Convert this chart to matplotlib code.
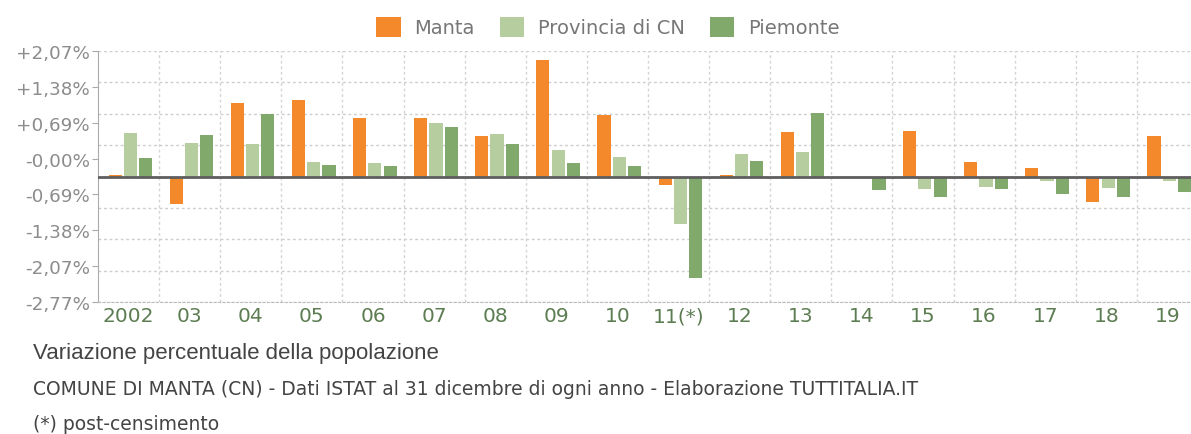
import numpy as np
import matplotlib
matplotlib.use("Agg")
import matplotlib.pyplot as plt
from matplotlib.patches import Patch

plt.rcParams['font.family'] = ['Liberation Sans', 'DejaVu Sans']

# dati: variazione percentuale annua della popolazione
years = ['2002', '03', '04', '05', '06', '07', '08', '09', '10', '11(*)',
         '12', '13', '14', '15', '16', '17', '18', '19']
manta = [0.03, -0.61, 1.63, 1.70, 1.30, 1.30, 0.89, 2.58, 1.35, -0.18,
         0.04, 0.99, 0.00, 1.00, 0.31, 0.19, -0.56, 0.89]
provincia = [0.95, 0.75, 0.71, 0.31, 0.30, 1.18, 0.93, 0.58, 0.44, -1.05,
             0.49, 0.54, -0.04, -0.28, -0.23, -0.10, -0.25, -0.10]
piemonte = [0.41, 0.91, 1.39, 0.25, 0.24, 1.10, 0.71, 0.29, 0.24, -2.25,
            0.35, 1.41, -0.29, -0.46, -0.28, -0.39, -0.45, -0.34]
series_names = ['Manta', 'Provincia di CN', 'Piemonte']
ytick_labels = ['-2,77%', '-2,07%', '-1,38%', '-0,69%', '-0,00%',
                '+0,69%', '+1,38%', '+2,07%']

colors = ['#f4892b', '#b6cd9f', '#81a96c']
ymax = 2.77
wide = 'DejaVu Sans'

fig = plt.figure(figsize=(11.91, 4.35), dpi=100)
ax = fig.add_axes([98 / 1191, 0.3034, 1100 / 1191, 0.5770])

x = np.arange(len(years))
width = 0.215
offsets = [-0.22, 0.03, 0.28]
for vals, off, col in zip([manta, provincia, piemonte], offsets, colors):
    ax.bar(x + off, vals, width, color=col, zorder=3)

ax.set_xlim(-0.5, len(years) - 0.5)
ax.set_ylim(-ymax, ymax)

# griglia tratteggiata
for gy in np.linspace(-ymax, ymax, 9):
    ax.axhline(gy, color='#cdcdcd', lw=1, ls=(0, (2, 2)), zorder=1)
for gx in np.arange(0.5, len(years) - 0.5, 1):
    ax.axvline(gx, color='#d4d4d4', lw=1, ls=(0, (2, 2)), zorder=1)
ax.axhline(0, color='#5e5e5e', lw=2, zorder=4)

# etichette asse y (distribuite come nell'originale)
ax.set_yticks(np.linspace(-ymax, ymax, 8))
ax.set_yticklabels(ytick_labels, fontsize=13.2, color='#8c8c8c', family=wide)
ax.tick_params(axis='y', length=4, color='#aaaaaa', pad=2)

ax.set_xticks(x)
ax.set_xticklabels(years, fontsize=14.5, color='#5c7d52', family=wide)
ax.tick_params(axis='x', length=0, pad=3)

for s in ['top', 'right']:
    ax.spines[s].set_visible(False)
ax.spines['left'].set_color('#aaaaaa')
ax.spines['bottom'].set_color('#bbbbbb')
ax.spines['bottom'].set_linestyle((0, (2, 2)))

handles = [Patch(facecolor=c, edgecolor='none') for c in colors]
fig.legend(handles, series_names, loc='center', bbox_to_anchor=(608 / 1191, 1 - 28 / 435),
           ncol=3, frameon=False, prop={'family': wide, 'size': 14}, labelcolor='#777777',
           handlelength=1.25, handleheight=1.25, handletextpad=0.7, columnspacing=1.3)

fig.text(33 / 1191, 1 - 354 / 435, 'Variazione percentuale della popolazione',
         fontsize=16, color='#444444', va='center')
fig.text(33 / 1191, 1 - 390 / 435,
         'COMUNE DI MANTA (CN) - Dati ISTAT al 31 dicembre di ogni anno - Elaborazione TUTTITALIA.IT',
         fontsize=13.5, color='#444444', va='center', family=wide)
fig.text(33 / 1191, 1 - 425 / 435, '(*) post-censimento',
         fontsize=13.5, color='#444444', va='center', family=wide)

fig.savefig('out.png', dpi=100)
